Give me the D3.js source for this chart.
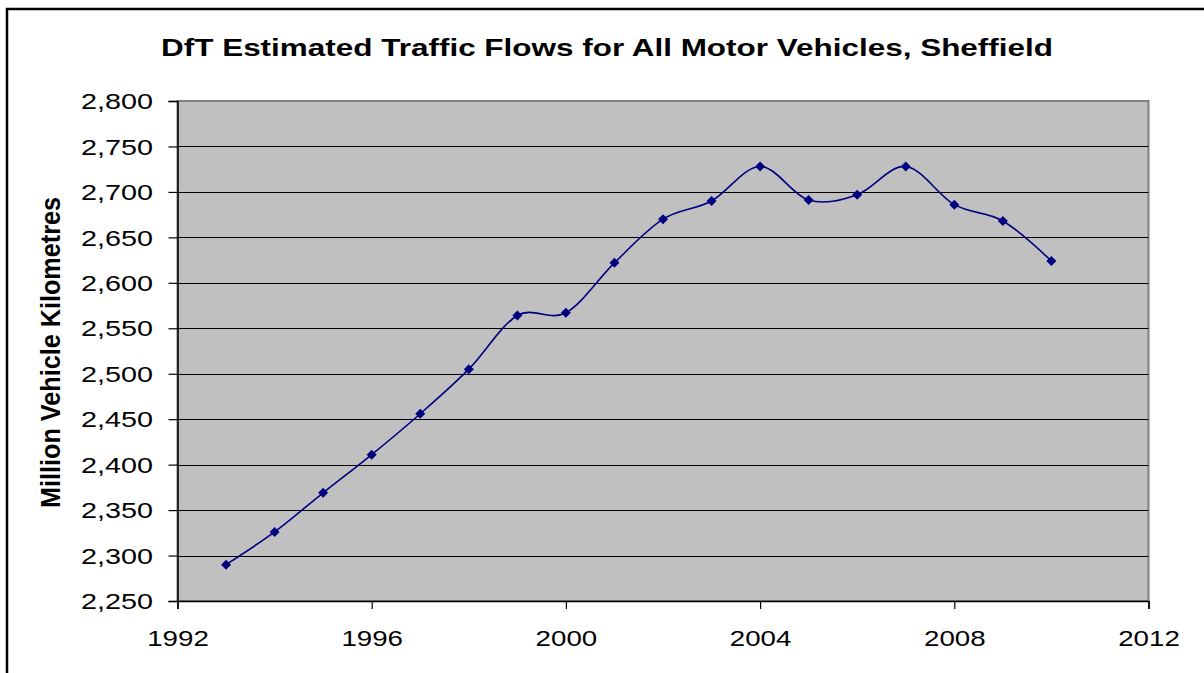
<!DOCTYPE html>
<html>
<head>
<meta charset="utf-8">
<script src="https://cdn.jsdelivr.net/npm/d3@7"></script>
<style>
  html, body { margin: 0; padding: 0; background: #fff; }
  svg { display: block; }
  text { font-family: "Liberation Sans", Arial, sans-serif; fill: #000; }
</style>
</head>
<body>
<svg id="chart" width="1204" height="673"></svg>
<script>
const years = [1993, 1994, 1995, 1996, 1997, 1998, 1999, 2000, 2001, 2002,
               2003, 2004, 2005, 2006, 2007, 2008, 2009, 2010];
const flows = [2290, 2326, 2369, 2411, 2456, 2505, 2564, 2567, 2622, 2670,
               2690, 2728, 2691, 2697, 2728, 2686, 2668, 2624];
const xTicks = [1992, 1996, 2000, 2004, 2008, 2012];
const yTicks = [2250, 2300, 2350, 2400, 2450, 2500, 2550, 2600, 2650, 2700, 2750, 2800];
const titleText = "DfT Estimated Traffic Flows for All Motor Vehicles, Sheffield";
const yTitleText = "Million Vehicle Kilometres";

const svg = d3.select("#chart");
const plot = { left: 177.5, right: 1148.5, top: 101, bottom: 601 };

const x = d3.scaleLinear().domain([1992, 2012]).range([plot.left, plot.right]);
const y = d3.scaleLinear().domain([2250, 2800]).range([plot.bottom, plot.top]);

// outer chart border
svg.append("rect")
  .attr("x", 7).attr("y", 9).attr("width", 1300).attr("height", 800)
  .attr("fill", "#fff").attr("stroke", "#000").attr("stroke-width", 2.5);

// plot background
svg.append("rect")
  .attr("x", plot.left).attr("y", plot.top)
  .attr("width", plot.right - plot.left).attr("height", plot.bottom - plot.top)
  .attr("fill", "#c0c0c0").attr("stroke", "#808080").attr("stroke-width", 2);

// gridlines
svg.append("g").selectAll("line")
  .data(yTicks.filter(d => d !== 2250 && d !== 2800))
  .join("line")
  .attr("x1", plot.left).attr("x2", plot.right)
  .attr("y1", d => Math.round(y(d)) + 0.5).attr("y2", d => Math.round(y(d)) + 0.5)
  .attr("stroke", "#000").attr("stroke-width", 1.2);

// y axis
const yAxis = svg.append("g")
  .attr("transform", `translate(${plot.left},0)`)
  .call(d3.axisLeft(y).tickValues(yTicks).tickSize(9).tickPadding(0)
        .tickFormat(d3.format(",")));
yAxis.select(".domain").attr("stroke", "#000").attr("stroke-width", 1.5);
yAxis.selectAll(".tick line").attr("stroke", "#000").attr("stroke-width", 1.2);
yAxis.selectAll(".tick text")
  .attr("font-size", 22).attr("fill", "#000")
  .attr("text-anchor", "start")
  .attr("x", -96.5).attr("dy", "0.35em")
  .attr("textLength", 72).attr("lengthAdjust", "spacingAndGlyphs");

// x axis
const xAxis = svg.append("g")
  .attr("transform", `translate(0,${plot.bottom})`)
  .call(d3.axisBottom(x).tickValues(xTicks).tickSize(8).tickPadding(0)
        .tickFormat(d3.format("d")));
xAxis.select(".domain").attr("stroke", "#000").attr("stroke-width", 1.5);
xAxis.selectAll(".tick line").attr("stroke", "#000").attr("stroke-width", 1.2);
xAxis.selectAll(".tick text")
  .attr("font-size", 22).attr("fill", "#000")
  .attr("text-anchor", "start")
  .attr("x", -30.8).attr("y", 45).attr("dy", 0)
  .attr("textLength", 61.6).attr("lengthAdjust", "spacingAndGlyphs");

// line
const line = d3.line()
  .x((d, i) => x(years[i]))
  .y(d => y(d))
  .curve(d3.curveCardinal.tension(0));
svg.append("path")
  .datum(flows)
  .attr("d", line)
  .attr("fill", "none").attr("stroke", "#000080").attr("stroke-width", 1.6);

// markers
svg.append("g").selectAll("path")
  .data(flows)
  .join("path")
  .attr("transform", (d, i) => `translate(${x(years[i])},${y(d)})`)
  .attr("d", "M0,-5L5,0L0,5L-5,0Z")
  .attr("fill", "#000080");

// title
svg.append("text")
  .attr("x", 161).attr("y", 56)
  .attr("font-size", 23.5).attr("font-weight", "bold")
  .attr("textLength", 892).attr("lengthAdjust", "spacingAndGlyphs")
  .text(titleText);

// y axis title
svg.append("text")
  .attr("transform", "translate(60,508) rotate(-90)")
  .attr("font-size", 21).attr("font-weight", "bold")
  .attr("textLength", 311).attr("lengthAdjust", "spacingAndGlyphs")
  .attr("transform", "translate(60,508) scale(1.3,1) rotate(-90)")
  .text(yTitleText);
</script>
</body>
</html>
